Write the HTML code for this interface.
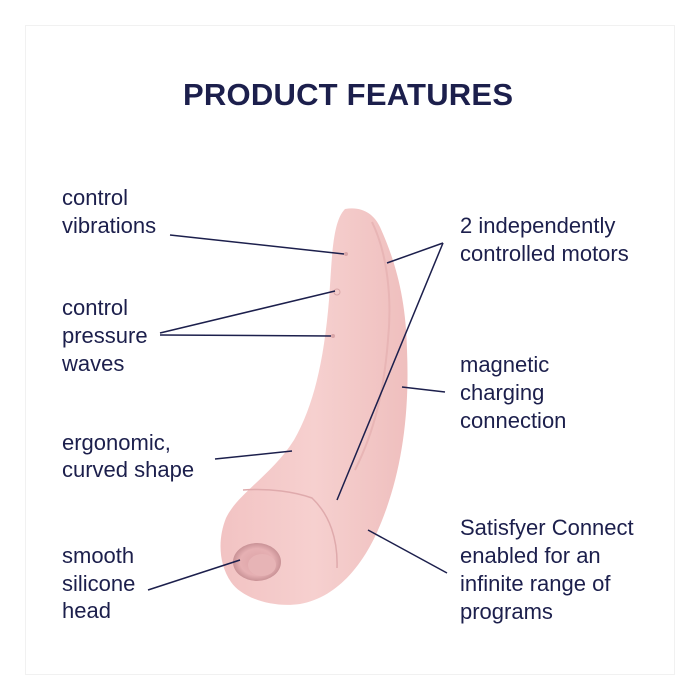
<!DOCTYPE html>
<html><head><meta charset="utf-8"><style>
html,body{margin:0;padding:0;background:#fff;}
svg{display:block;}
text{font-family:"Liberation Sans",sans-serif;fill:#1c1f4c;}
.t{font-size:22px;}
</style></head><body>
<svg width="700" height="700" viewBox="0 0 700 700" xmlns="http://www.w3.org/2000/svg">
<defs>
<linearGradient id="g" x1="0" y1="0" x2="1" y2="0">
<stop offset="0" stop-color="#f2c3c3"/><stop offset="0.5" stop-color="#f6d0cf"/><stop offset="1" stop-color="#efbfbe"/>
</linearGradient>
<radialGradient id="h" cx="0.5" cy="0.5" r="0.5">
<stop offset="0" stop-color="#dca3a6"/><stop offset="0.7" stop-color="#e6b0b3"/><stop offset="1" stop-color="#c99296"/>
</radialGradient>
</defs>
<rect x="25.5" y="25.5" width="649" height="649" fill="none" stroke="#f1f1f1" stroke-width="1"/>
<text x="348" y="105" text-anchor="middle" font-size="31" font-weight="bold" textLength="330" lengthAdjust="spacing">PRODUCT FEATURES</text>

<!-- product -->
<path d="M345,209 C362,206 374,214 380,227 C396,262 406,300 407,350 C410,420 400,480 378,530 C365,560 340,597 300,604 C272,608 242,598 231,582 C218,563 218,538 226,518 C238,493 272,475 294,440 C314,405 324,360 329,300 C332,260 332,222 345,209 Z" fill="url(#g)"/>
<path d="M372,222 C388,255 392,300 388,340 C384,390 375,430 355,470" fill="none" stroke="#e8b5b5" stroke-width="2"/>
<path d="M243,490 C270,488 295,492 312,498 C330,515 338,540 337,568" fill="none" stroke="#dfaaac" stroke-width="1.5"/>
<ellipse cx="257" cy="562" rx="24" ry="19" fill="url(#h)"/>
<ellipse cx="262" cy="565" rx="14" ry="11" fill="#e7b4b6"/>
<circle cx="346" cy="254" r="2" fill="#d9a6a8"/>
<circle cx="337" cy="292" r="3" fill="none" stroke="#d9a6a8" stroke-width="1"/>
<circle cx="333" cy="336" r="2" fill="#d9a6a8"/>

<!-- lines -->
<g stroke="#1c1f4c" stroke-width="1.5" fill="none">
<line x1="170" y1="235" x2="344" y2="254"/>
<line x1="160" y1="333" x2="335" y2="291"/>
<line x1="160" y1="335" x2="331" y2="336"/>
<line x1="215" y1="459" x2="292" y2="451"/>
<line x1="148" y1="590" x2="240" y2="560"/>
<line x1="443" y1="243" x2="387" y2="263"/>
<line x1="443" y1="243" x2="337" y2="500"/>
<line x1="445" y1="392" x2="402" y2="387"/>
<line x1="447" y1="573" x2="368" y2="530"/>
</g>

<g class="t">
<text x="62" y="205">control</text>
<text x="62" y="233">vibrations</text>
<text x="62" y="315">control</text>
<text x="62" y="343">pressure</text>
<text x="62" y="371">waves</text>
<text x="62" y="450">ergonomic,</text>
<text x="62" y="477">curved shape</text>
<text x="62" y="563">smooth</text>
<text x="62" y="591">silicone</text>
<text x="62" y="618">head</text>
<text x="460" y="233">2 independently</text>
<text x="460" y="261">controlled motors</text>
<text x="460" y="372">magnetic</text>
<text x="460" y="400">charging</text>
<text x="460" y="428">connection</text>
<text x="460" y="535">Satisfyer Connect</text>
<text x="460" y="563">enabled for an</text>
<text x="460" y="591">infinite range of</text>
<text x="460" y="619">programs</text>
</g>
</svg>
</body></html>
